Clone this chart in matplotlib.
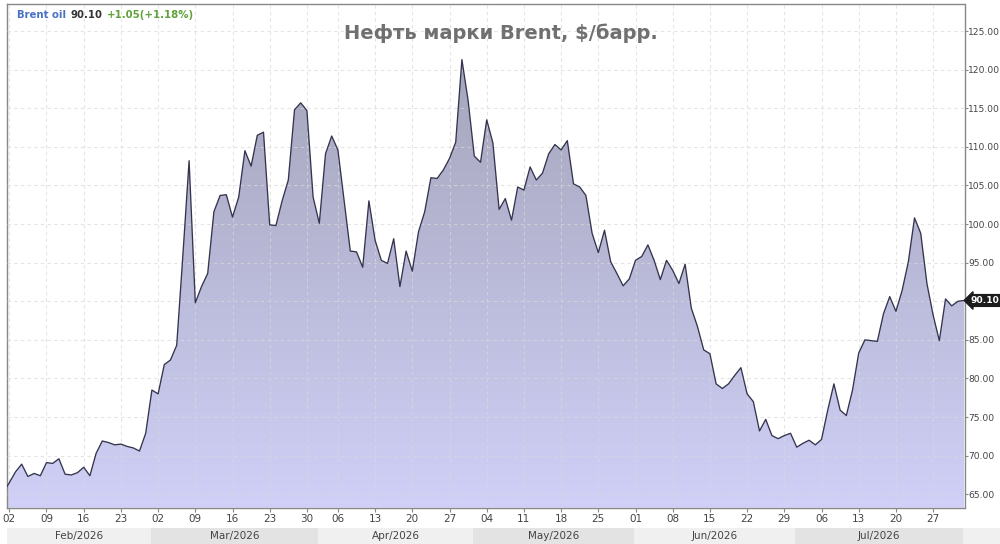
import numpy as np
import pandas as pd
import matplotlib
matplotlib.use('Agg')
import matplotlib.pyplot as plt
from matplotlib.colors import LinearSegmentedColormap
from matplotlib.patches import PathPatch, Rectangle
from matplotlib.ticker import FixedLocator, FuncFormatter

# ---------------- data ----------------
# One value per bar; bars are Sun..Fri of each week (ICE session), Good Friday 2026-04-03 absent.
week_values = [
    [65.2, 66.5, 67.9, 68.9, 67.3, 67.7],      # Feb 1-6
    [67.4, 69.1, 69.0, 69.6, 67.6, 67.5],      # Feb 8-13
    [67.8, 68.5, 67.4, 70.3, 71.9, 71.7],      # Feb 15-20
    [71.4, 71.5, 71.2, 71.0, 70.6, 72.9],      # Feb 22-27
    [78.5, 78.0, 81.8, 82.4, 84.3, 96.0],      # Mar 1-6
    [108.2, 89.8, 91.9, 93.6, 101.6, 103.7],   # Mar 8-13
    [103.8, 100.9, 103.5, 109.5, 107.5, 111.5],# Mar 15-20
    [111.9, 99.9, 99.8, 103.0, 105.7, 114.8],  # Mar 22-27
    [115.7, 114.7, 103.5, 100.1, 109.1],       # Mar 29-Apr 2
    [111.4, 109.6, 103.0, 96.5, 96.4, 94.4],   # Apr 5-10
    [103.0, 97.9, 95.3, 94.9, 98.1, 91.9],     # Apr 12-17
    [96.5, 93.9, 99.0, 101.6, 106.0, 105.9],   # Apr 19-24
    [107.0, 108.5, 110.6, 121.3, 116.0, 108.8],# Apr 26-May 1
    [108.0, 113.5, 110.5, 101.9, 103.3, 100.5],# May 3-8
    [104.8, 104.4, 107.4, 105.7, 106.6, 109.1],# May 10-15
    [110.3, 109.6, 110.8, 105.2, 104.8, 103.7],# May 17-22
    [98.8, 96.3, 99.2, 95.1, 93.6, 92.0],      # May 24-29
    [92.9, 95.3, 95.8, 97.3, 95.3, 92.8],      # May 31-Jun 5
    [95.3, 94.0, 92.3, 94.8, 89.1, 86.7],      # Jun 7-12
    [83.7, 83.2, 79.3, 78.7, 79.3, 80.4],      # Jun 14-19
    [81.4, 78.0, 77.0, 73.2, 74.7, 72.6],      # Jun 21-26
    [72.2, 72.6, 72.9, 71.1, 71.6, 72.0],      # Jun 28-Jul 3
    [71.4, 72.1, 75.9, 79.3, 75.9, 75.2],      # Jul 5-10
    [78.5, 83.3, 85.0, 84.9, 84.8, 88.4],      # Jul 12-17
    [90.6, 88.7, 91.4, 95.1, 100.8, 98.8],     # Jul 19-24
    [92.3, 88.2, 84.9, 90.3, 89.4, 90.0],      # Jul 26-31
    [90.1],                                    # Aug 2
]
prices = [v for w in week_values for v in w]

all_days = pd.date_range('2026-02-01', '2026-08-02', freq='D')
bar_dates = [d for d in all_days if d.weekday() != 5 and d != pd.Timestamp('2026-04-03')]

month_labels = ['Feb/2026', 'Mar/2026', 'Apr/2026', 'May/2026', 'Jun/2026', 'Jul/2026']
y_ticks = [65, 70, 75, 80, 85, 90, 95, 100, 105, 110, 115, 120, 125]
title = 'Нефть марки Brent, $/барр.'
legend_name = 'Brent oil'
last_price = '90.10'
change_text = '+1.05(+1.18%)'

# ---------------- figure ----------------
W, H = 1000, 544
fig = plt.figure(figsize=(W / 100, H / 100), dpi=100)
fig.patch.set_facecolor('white')
ax_l, ax_r, ax_t, ax_b = 7, 964.5, 4, 507.7
ax = fig.add_axes([ax_l / W, 1 - ax_b / H, (ax_r - ax_l) / W, (ax_b - ax_t) / H])

x = np.arange(len(prices))
ymin, ymax = 63.26, 128.5
xmin, xmax = 0.63, 155.06

# gradient area fill
poly = ax.fill_between(x, prices, ymin, facecolor='none', edgecolor='none')
path = poly.get_paths()[0]
clip = PathPatch(path, transform=ax.transData, facecolor='none', edgecolor='none')
ax.add_patch(clip)
cmap = LinearSegmentedColormap.from_list('g', ['#d0d0f8', '#a0a0b4'])
grad = np.linspace(0, 1, 256).reshape(-1, 1)
im = ax.imshow(grad, extent=[xmin - 1, xmax + 1, ymin, ymax], origin='lower',
               aspect='auto', cmap=cmap, zorder=1, interpolation='bilinear')
im.set_clip_path(clip)

ax.plot(x, prices, color='#34344e', lw=0.95, zorder=4)

ax.set_xlim(xmin, xmax)
ax.set_ylim(ymin, ymax)

# x ticks on Mondays
mon_idx = [i for i, d in enumerate(bar_dates) if d.weekday() == 0]
mon_lab = [f'{bar_dates[i].day:02d}' for i in mon_idx]
ax.set_xticks(mon_idx)
ax.set_xticklabels(mon_lab)

# y ticks on right
ax.yaxis.tick_right()
ax.yaxis.set_major_locator(FixedLocator(y_ticks))
ax.yaxis.set_major_formatter(FuncFormatter(lambda v, p: '' if abs(v - 90) < 1e-6 else f'{v:.2f}'))

ax.tick_params(axis='both', direction='out', width=0.8, color='#888888',
               labelcolor='#444444')
ax.tick_params(axis='x', pad=1.5, length=3, labelsize=7.5)
ax.tick_params(axis='y', pad=0.2, length=2.5, labelsize=6.6)

for s in ax.spines.values():
    s.set_color('#888888')
    s.set_linewidth(1.0)

ax.set_axisbelow(False)
ax.grid(True, color='#d9d9d9', alpha=0.7, linestyle=(0, (3, 3)), linewidth=0.8)

# month bands
month_starts = []
for m in range(2, 9):
    first = next(i for i, d in enumerate(bar_dates) if d.month == m)
    month_starts.append(first - 0.2)
month_starts[0] = xmin
band_top, band_bot = -(527.7 - ax_b) / (ax_b - ax_t), -(H - ax_b) / (ax_b - ax_t) - 0.01
for k in range(len(month_starts)):
    s = month_starts[k]
    e = month_starts[k + 1] if k + 1 < len(month_starts) else xmax + 10
    col = '#f0f0f0' if k % 2 == 0 else '#e3e3e3'
    ax.add_patch(Rectangle((s, band_bot), e - s, band_top - band_bot,
                           transform=ax.get_xaxis_transform(), facecolor=col,
                           edgecolor='none', clip_on=False, zorder=0))
    if k < len(month_labels):
        c = (max(s, xmin) + min(e, xmax)) / 2
        ax.text(c, -(536 - ax_b) / (ax_b - ax_t), month_labels[k],
                transform=ax.get_xaxis_transform(), ha='center', va='center',
                fontsize=7.5, color='#444444', clip_on=False)

# price tag
ax.text(1.0062, float(last_price), last_price, transform=ax.get_yaxis_transform(),
        ha='left', va='center', fontsize=6.6, fontweight='bold', color='white',
        bbox=dict(boxstyle='larrow,pad=0.15', fc='#1c1c1c', ec='#1c1c1c'),
        clip_on=False, zorder=10)

# title
fig.text(0.501, 1 - 33 / H, title, fontsize=14, fontweight='bold', color='#707070',
         ha='center', va='center')

# legend text
t1 = fig.text(17 / W, 1 - 15 / H, legend_name, color='#4a72c4', fontsize=7.3,
              fontweight='bold', ha='left', va='center')
t2 = ax.annotate(last_price, xy=(1, 0.5), xycoords=t1, xytext=(3, 0),
                 textcoords='offset points', ha='left', va='center',
                 color='#333333', fontsize=7.3, fontweight='bold', annotation_clip=False)
t3 = ax.annotate(change_text, xy=(1, 0.5), xycoords=t2, xytext=(3, 0),
                 textcoords='offset points', ha='left', va='center',
                 color='#5fa13a', fontsize=7.3, fontweight='bold', annotation_clip=False)

fig.savefig('out.png', dpi=100, facecolor='white')
